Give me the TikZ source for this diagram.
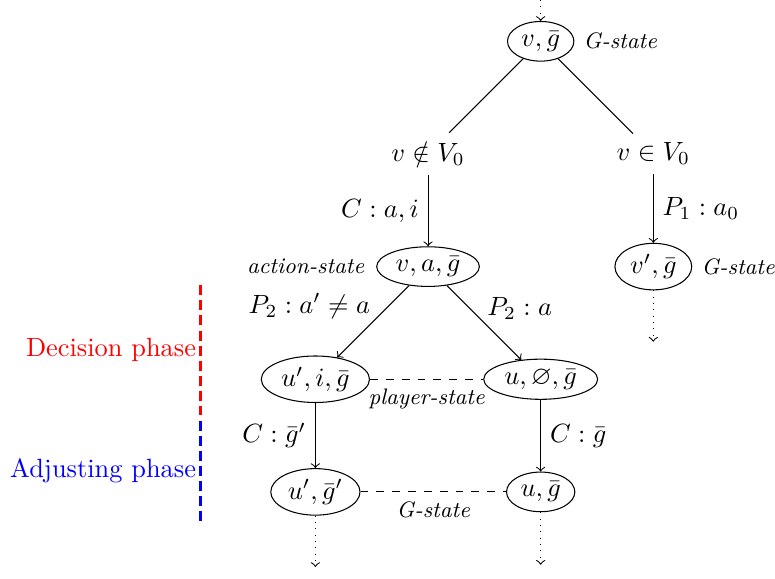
\documentclass[tikz,border=0pt]{standalone}
\usepackage{amssymb}
\usetikzlibrary{shapes.geometric}
\tikzset{
  state/.style={ellipse, draw, inner xsep=1.5pt, inner ysep=1.5pt},
  tag/.style={font=\fontsize{8.5}{10}\selectfont\itshape},
  move/.style={->},
  cont/.style={->, dotted},
  same/.style={dashed},
  phase/.style={line width=1.4pt, dash pattern=on 3.8pt off 1.9pt},
}

\begin{document}
\begin{tikzpicture}
  \useasboundingbox (-7.2,-7.15) rectangle (3.12,0.55);
  % root G-state and the two cases
  \coordinate (top) at (0,0.55);
  \node[state] (g0) at (0,0) {$v, \bar{g}$};
  \node[tag, right=0pt] at (g0.east) {G-state};
  \node (nin) at (-1.5,-1.5) {$v \notin V_0$};
  \node (vin) at (1.5,-1.5) {$v \in V_0$};
  % next level
  \node[state] (act) at (-1.5,-3) {$v, a, \bar{g}$};
  \node[tag, left=1pt] at (act.west) {action-state};
  \node[state] (vp) at (1.5,-3) {$v', \bar{g}$};
  \node[tag, right=0pt] at (vp.east) {G-state};
  \coordinate (vpend) at (1.5,-4);
  % player-states
  \node[state] (up) at (-3,-4.5) {$u', i, \bar{g}$};
  \node[state] (un) at (0,-4.5) {$u, \varnothing, \bar{g}$};
  % G-states after adjusting
  \node[state] (upg) at (-3,-6) {$u', \bar{g}'$};
  \node[state] (ug) at (0,-6) {$u, \bar{g}$};
  \coordinate (upgend) at (-3,-7);
  \coordinate (ugend) at (0,-6.97);

  \draw[cont] (top) -- (g0);
  \draw (g0) -- (nin);
  \draw (g0) -- (vin);
  \draw[move] (nin) -- node[left] {$C : a, i$} (act);
  \draw[move] (vin) -- node[right] {$P_1 : a_0$} (vp);
  \draw[cont] (vp) -- (vpend);
  \draw[move] (act) -- node[above left, inner sep=1pt] {$P_2 : a' \neq a$} (up);
  \draw[move] (act) -- node[above right, inner sep=1pt] {$P_2 : a$} (un);
  \draw[same] (up) -- node[tag, below] {player-state} (un);
  \draw[move] (up) -- node[left] {$C : \bar{g}'$} (upg);
  \draw[move] (un) -- node[right] {$C : \bar{g}$} (ug);
  \draw[same] (upg) -- node[tag, below] {G-state} (ug);
  \draw[cont] (upg) -- (upgend);
  \draw[cont] (ug) -- (ugend);

  % phases
  \coordinate (dec1) at (-4.53,-3.25);
  \coordinate (dec2) at (-4.53,-4.98);
  \coordinate (adj1) at (-4.53,-5.05);
  \coordinate (adj2) at (-4.53,-6.4);
  \draw[phase, red] (dec1) -- node[left, inner xsep=1pt] {Decision phase} (dec2);
  \draw[phase, blue] (adj1) -- node[left, inner xsep=1pt] {Adjusting phase} (adj2);
\end{tikzpicture}
\end{document}
